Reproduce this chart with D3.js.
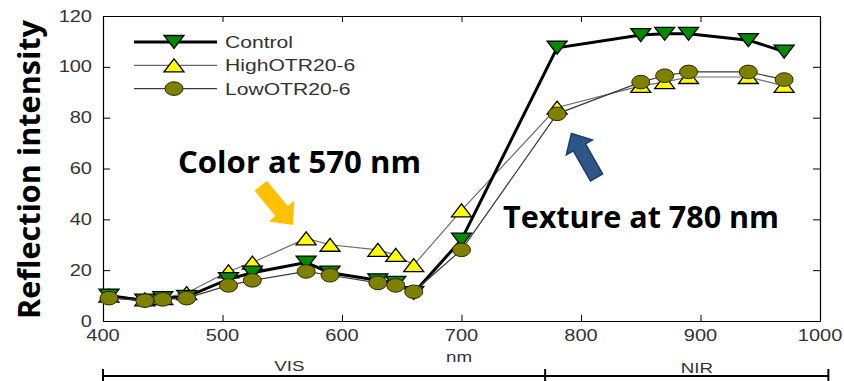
<!DOCTYPE html>
<html>
<head>
<meta charset="utf-8">
<script src="https://cdn.jsdelivr.net/npm/d3@7"></script>
<style>
  html, body { margin: 0; padding: 0; background: #fff; }
  svg { display: block; }
</style>
</head>
<body>
<svg id="chart" width="844" height="381"></svg>
<script>
// Reflection spectra of the three treatments
const wavelengths = [405, 435, 450, 470, 505, 525, 570, 590, 630, 645, 660, 700, 780, 850, 870, 890, 940, 970];
const control   = [10, 8, 9, 9.5, 16.5, 19, 23, 19, 16, 15, 11, 32, 107.5, 112.5, 113, 113, 110.5, 106];
const highOTR   = [10, 8.5, 9, 11, 19.5, 23, 32.5, 30, 28, 26, 22, 43.5, 84, 92.5, 94, 96, 96, 92.5];
const lowOTR    = [9, 8, 8.5, 9, 14, 16, 19.5, 18, 15, 14, 11.5, 28, 81.5, 94, 96.5, 98, 98, 95];

const seriesNames = ["Control", "HighOTR20-6", "LowOTR20-6"];
const xTicks = [400, 500, 600, 700, 800, 900, 1000];
const yTicks = [0, 20, 40, 60, 80, 100, 120];
const xTitle = "nm";
const yTitle = "Reflection intensity";
const bandNames = ["VIS", "NIR"];
const bandEdges = [400, 770, 1007];
const notes = ["Color at 570 nm", "Texture at 780 nm"];

const svg = d3.select("#chart");
const plotLeft = 103, plotRight = 820, plotTop = 16, plotBottom = 321;

const x = d3.scaleLinear().domain([400, 1000]).range([plotLeft, plotRight]);
const y = d3.scaleLinear().domain([0, 120]).range([plotBottom, plotTop]);

const labelFont = "'Liberation Sans', Arial, sans-serif";
const labelColor = "#333";

// small text that is drawn a little wider than its natural width
function wideText(parent, px, py, str, anchor, sx, size) {
  return parent.append("text")
    .attr("transform", `translate(${px},${py}) scale(${sx},1)`)
    .attr("text-anchor", anchor)
    .attr("font-family", labelFont)
    .attr("font-size", size)
    .attr("fill", labelColor)
    .text(str);
}

// ----- frame and ticks (all ticks point inward) -----
const axes = svg.append("g");
axes.append("g").attr("transform", `translate(0,${plotBottom})`)
  .call(d3.axisBottom(x).tickValues(xTicks).tickSizeInner(-6).tickSizeOuter(0).tickFormat(""));
axes.append("g").attr("transform", `translate(0,${plotTop})`)
  .call(d3.axisTop(x).tickValues(xTicks).tickSizeInner(-6).tickSizeOuter(0).tickFormat(""));
axes.append("g").attr("transform", `translate(${plotLeft},0)`)
  .call(d3.axisLeft(y).tickValues(yTicks).tickSizeInner(-7).tickSizeOuter(0).tickFormat(""));
axes.append("g").attr("transform", `translate(${plotRight},0)`)
  .call(d3.axisRight(y).tickValues(yTicks).tickSizeInner(-7).tickSizeOuter(0).tickFormat(""));
axes.selectAll(".domain").attr("stroke", "#000").attr("stroke-width", 1.2);
axes.selectAll(".tick line").attr("stroke", "#000").attr("stroke-width", 1);

// tick labels
xTicks.forEach(v => wideText(svg, x(v), 341, String(v), "middle", 1.25, 16));
yTicks.forEach(v => wideText(svg, 92, y(v) + 5.5, String(v), "end", 1.25, 16));

// axis titles
wideText(svg, x(698), 362, xTitle, "middle", 1.25, 15);
svg.append("text")
  .attr("transform", `translate(40,${(plotTop + plotBottom) / 2 + 1}) rotate(-90)`)
  .attr("text-anchor", "middle")
  .attr("font-family", "'Open Sans', sans-serif")
  .attr("font-weight", "bold")
  .attr("font-size", 30)
  .attr("textLength", 299)
  .attr("lengthAdjust", "spacingAndGlyphs")
  .attr("fill", "#000")
  .text(yTitle);

// ----- spectral bands below the axis -----
const bandY = 376;
svg.append("line").attr("x1", x(bandEdges[0])).attr("x2", x(bandEdges[2]))
  .attr("y1", bandY).attr("y2", bandY).attr("stroke", "#000").attr("stroke-width", 2);
bandEdges.forEach(b => svg.append("line").attr("x1", x(b)).attr("x2", x(b))
  .attr("y1", bandY - 7).attr("y2", 381).attr("stroke", "#000").attr("stroke-width", 2));
wideText(svg, x(556), 371, bandNames[0], "middle", 1.25, 15);
wideText(svg, x(897), 373, bandNames[1], "middle", 1.25, 15);

// ----- series -----
const markerW = 20, markerH = 13;
const downTri = `M${-markerW/2},${-markerH/2} L${markerW/2},${-markerH/2} L0,${markerH/2} Z`;
const upTri = `M${-markerW/2},${markerH/2} L${markerW/2},${markerH/2} L0,${-markerH/2} Z`;

const series = [
  { name: seriesNames[1], values: highOTR, lineColor: "#6a6a6a", lineWidth: 1.2, shape: "up", fill: "#ffff00" },
  { name: seriesNames[0], values: control, lineColor: "#000", lineWidth: 3, shape: "down", fill: "#008a00" },
  { name: seriesNames[2], values: lowOTR, lineColor: "#3a3a3a", lineWidth: 1.2, shape: "circle", fill: "#808000" }
];

const line = d3.line().x(d => x(d[0])).y(d => y(d[1]));

function drawMarker(g, px, py, s) {
  if (s.shape === "circle") {
    g.append("ellipse").attr("cx", px).attr("cy", py).attr("rx", 9).attr("ry", 6.8)
      .attr("fill", s.fill).attr("stroke", "#2a2a00").attr("stroke-width", 1);
  } else {
    g.append("path").attr("d", s.shape === "up" ? upTri : downTri)
      .attr("transform", `translate(${px},${py})`)
      .attr("fill", s.fill).attr("stroke", "#000").attr("stroke-width", 1.3);
  }
}

series.forEach(s => {
  const g = svg.append("g");
  const pts = wavelengths.map((w, i) => [w, s.values[i]]);
  g.append("path").attr("d", line(pts)).attr("fill", "none")
    .attr("stroke", s.lineColor).attr("stroke-width", s.lineWidth);
  pts.forEach(p => drawMarker(g, x(p[0]), y(p[1]), s));
});

// ----- legend -----
const legend = svg.append("g");
const legendOrder = [series[1], series[0], series[2]];
legendOrder.forEach((s, i) => {
  const ly = 42 + i * 23.3;
  legend.append("line").attr("x1", 134).attr("x2", 217).attr("y1", ly).attr("y2", ly)
    .attr("stroke", s.lineColor).attr("stroke-width", s.lineWidth);
  drawMarker(legend, 174, ly, s);
  wideText(legend, 225, ly + 6, s.name, "start", 1.32, 16);
});

// ----- annotations -----
function blockArrow(tail, tip, bodyW, headW, headL, fill, stroke) {
  const dx = tip[0] - tail[0], dy = tip[1] - tail[1];
  const len = Math.hypot(dx, dy);
  const ang = Math.atan2(dy, dx) * 180 / Math.PI;
  const b = len - headL;
  const pts = [[0, -bodyW/2], [b, -bodyW/2], [b, -headW/2], [len, 0], [b, headW/2], [b, bodyW/2], [0, bodyW/2]];
  svg.append("polygon")
    .attr("points", pts.map(p => p.join(",")).join(" "))
    .attr("transform", `translate(${tail[0]},${tail[1]}) rotate(${ang})`)
    .attr("fill", fill).attr("stroke", stroke).attr("stroke-width", 1.5);
}

blockArrow([x(532), y(53.2)], [x(559), y(37.8)], 16, 33, 18, "#ffc000", "none");
blockArrow([x(813), y(56.5)], [x(792), y(73.8)], 14, 30, 16, "#2e568a", "#1d3d66");

svg.append("text").attr("x", 178).attr("y", 173)
  .attr("font-family", "'Open Sans', sans-serif").attr("font-weight", "bold")
  .attr("font-size", 31).attr("textLength", 243).attr("lengthAdjust", "spacingAndGlyphs")
  .attr("fill", "#000").text(notes[0]);
svg.append("text").attr("x", 503).attr("y", 228)
  .attr("font-family", "'Open Sans', sans-serif").attr("font-weight", "bold")
  .attr("font-size", 31).attr("textLength", 276).attr("lengthAdjust", "spacingAndGlyphs")
  .attr("fill", "#000").text(notes[1]);
</script>
</body>
</html>
